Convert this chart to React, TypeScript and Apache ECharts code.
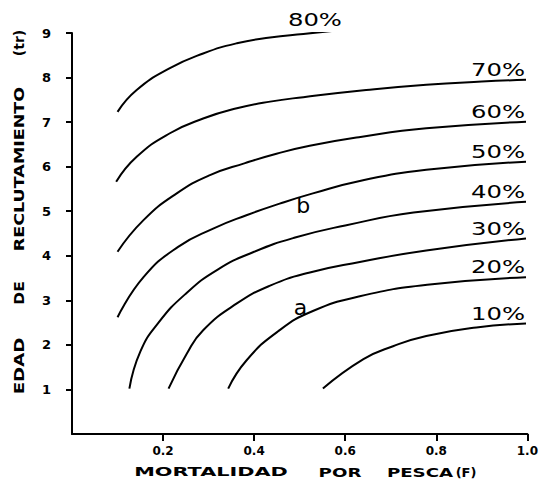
import React, { useEffect, useRef } from "react";
import * as echarts from "echarts";

// Tick values
const xTicks = [0.2, 0.4, 0.6, 0.8, 1.0];
const yTicks = [1, 2, 3, 4, 5, 6, 7, 8, 9];

// Curve names (percent of maximum yield per recruit)
const curveNames = ["10%", "20%", "30%", "40%", "50%", "60%", "70%", "80%"];

// Curves: [F, tr]
const c10 = [[0.551, 1.02], [0.64, 1.68], [0.705, 1.97], [0.778, 2.2], [0.888, 2.39], [0.997, 2.48]];
const c20 = [[0.343, 1.02], [0.383, 1.65], [0.452, 2.3], [0.529, 2.76], [0.632, 3.09], [0.78, 3.35], [0.997, 3.52]];
const c30 = [[0.212, 1.02], [0.252, 1.8], [0.288, 2.33], [0.362, 2.93], [0.435, 3.33], [0.52, 3.62], [0.632, 3.86], [0.778, 4.12], [0.997, 4.39]];
const c40 = [[0.126, 1.02], [0.15, 1.85], [0.19, 2.5], [0.25, 3.15], [0.32, 3.69], [0.4, 4.09], [0.49, 4.41], [0.6, 4.68], [0.75, 4.97], [0.997, 5.21]];
const c50 = [[0.1, 2.62], [0.157, 3.52], [0.233, 4.2], [0.31, 4.61], [0.383, 4.91], [0.456, 5.17], [0.529, 5.4], [0.632, 5.68], [0.778, 5.93], [0.997, 6.11]];
const c60 = [[0.1, 4.09], [0.157, 4.8], [0.23, 5.4], [0.303, 5.81], [0.38, 6.08], [0.449, 6.29], [0.522, 6.47], [0.63, 6.66], [0.778, 6.86], [0.997, 7.01]];
const c70 = [[0.097, 5.66], [0.142, 6.22], [0.215, 6.75], [0.288, 7.08], [0.362, 7.31], [0.435, 7.46], [0.508, 7.56], [0.646, 7.72], [0.778, 7.84], [0.9, 7.91], [0.997, 7.95]];
const c80 = [[0.1, 7.23], [0.142, 7.72], [0.215, 8.21], [0.288, 8.54], [0.362, 8.77], [0.435, 8.9], [0.508, 8.98], [0.595, 9.07]];
const curves = [c10, c20, c30, c40, c50, c60, c70, c80];

// Annotation letters and their data positions
const noteTexts = ["a", "b"];
const notePoints = [[0.502, 2.84], [0.508, 5.13]];

// Axis titles
const xTitleWords = ["MORTALIDAD", "POR", "PESCA", "(F)"];
const yTitleWords = ["EDAD", "DE", "RECLUTAMIENTO", "(tr)"];

export default function App() {
  const ref = useRef<HTMLDivElement>(null);

  useEffect(() => {
    if (!ref.current) return;
    const chart = echarts.init(ref.current, undefined, { renderer: "svg" });
    const axisFont = { color: "#000", fontWeight: "bold" as const, fontFamily: "DejaVu Sans" };
    chart.setOption({
      animation: false,
      grid: { left: 72, right: 13, top: 33, bottom: 58 },
      xAxis: {
        type: "value",
        min: 0,
        max: 1,
        interval: 0.2,
        axisLine: { lineStyle: { color: "#000", width: 2 } },
        axisTick: { show: true, customValues: xTicks, length: 7, lineStyle: { color: "#000", width: 2 } },
        axisLabel: { customValues: xTicks, formatter: (v: number) => v.toFixed(1), margin: 11, fontSize: 12, ...axisFont },
        splitLine: { show: false },
      },
      yAxis: {
        type: "value",
        min: 0,
        max: 9,
        interval: 1,
        axisLine: { lineStyle: { color: "#000", width: 2 } },
        axisTick: { show: true, customValues: yTicks, length: 6, lineStyle: { color: "#000", width: 2 } },
        axisLabel: { customValues: yTicks, formatter: (v: number) => String(v), margin: 21, fontSize: 13, ...axisFont },
        splitLine: { show: false },
      },
      series: curves.map((c, i) => ({
        type: "line",
        name: curveNames[i],
        data: c,
        showSymbol: false,
        smooth: 0.5,
        lineStyle: { color: "#000", width: 2 },
        silent: true,
      })),
    });

    const toPx = (p: number[]) => chart.convertToPixel({ gridIndex: 0 }, p) as number[];
    const graphics: any[] = [];
    curves.forEach((c, i) => {
      const [ex, ey] = toPx(c[c.length - 1]);
      graphics.push({
        type: "text",
        x: ex - 1,
        y: ey - 10,
        scaleX: 1.35,
        style: { text: curveNames[i], align: "right", verticalAlign: "middle", font: '18px "DejaVu Sans"', fill: "#000" },
      });
    });
    noteTexts.forEach((t, i) => {
      const [nx, ny] = toPx(notePoints[i]);
      graphics.push({
        type: "text",
        x: nx,
        y: ny,
        style: { text: t, align: "center", verticalAlign: "middle", font: '22px "DejaVu Sans"', fill: "#000" },
      });
    });
    const xWordCenters = [211, 340, 420, 466];
    const xWordScales = [1.6, 1.4, 1.4, 1.0];
    xTitleWords.forEach((w, i) => {
      graphics.push({
        type: "text",
        x: xWordCenters[i],
        y: 472,
        scaleX: xWordScales[i],
        style: { text: w, align: "center", verticalAlign: "middle", font: 'bold 13px "DejaVu Sans"', fill: "#000" },
      });
    });
    const yWordCenters = [366, 293, 169, 43];
    const yWordScales = [1.3, 1.1, 1.25, 1.0];
    yTitleWords.forEach((w, i) => {
      graphics.push({
        type: "text",
        x: 19,
        y: yWordCenters[i],
        rotation: Math.PI / 2,
        scaleX: yWordScales[i],
        style: { text: w, align: "center", verticalAlign: "middle", font: 'bold 14px "DejaVu Sans"', fill: "#000" },
      });
    });
    chart.setOption({ graphic: graphics });

    return () => chart.dispose();
  }, []);

  return <div ref={ref} style={{ position: "absolute", left: 0, top: 0, width: 541, height: 492, background: "#fff" }} />;
}
